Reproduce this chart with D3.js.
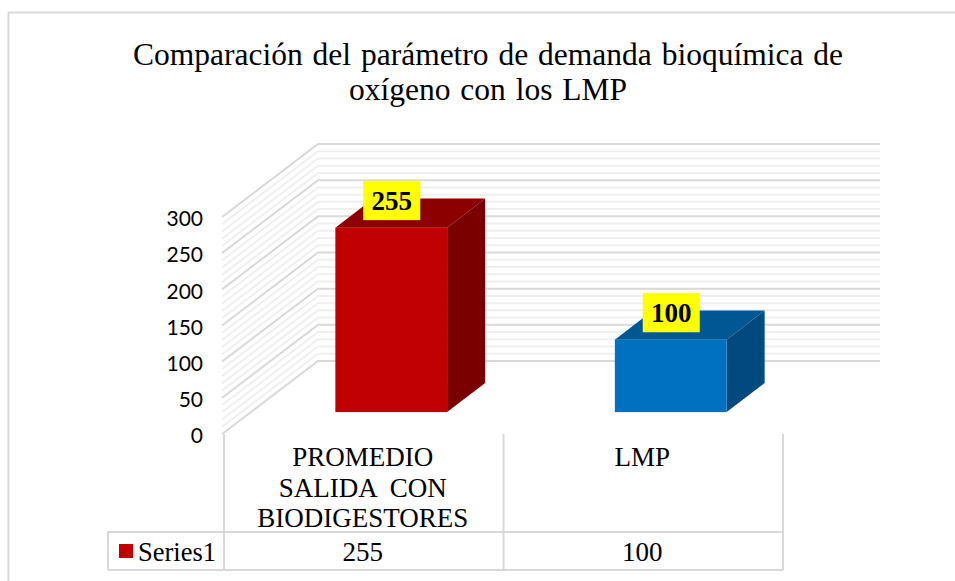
<!DOCTYPE html>
<html>
<head>
<meta charset="utf-8">
<script src="https://cdn.jsdelivr.net/npm/d3@7"></script>
<style>
	html, body { margin: 0; padding: 0; background: #fff; }
	svg { display: block; }
	text { font-family: "Liberation Serif", serif; fill: #000; white-space: pre; }
	.yaxis text { font-family: Lato, sans-serif; font-size: 21px; }
</style>
</head>
<body>
<svg id="chart" width="955" height="581"></svg>
<script>
const categories = ['PROMEDIO SALIDA CON BIODIGESTORES', 'LMP'];
const categoryLines = [['PROMEDIO', 'SALIDA  CON', 'BIODIGESTORES'], ['LMP']];
const values = [255, 100];
const seriesName = 'Series1';
const barColors = [
	{ front: '#c00000', top: '#8c0000', side: '#7a0000' },
	{ front: '#0070c0', top: '#005794', side: '#004a80' }
];
const majorTicks = [0, 50, 100, 150, 200, 250, 300];
const minorTicks = d3.range(0, 301, 10).filter(v => v % 50 !== 0);
const titleLines = ['Comparación del parámetro de demanda bioquímica de', 'oxígeno con los LMP'];

const gConfig = {
	left: 223, right: 782, floor: 434, ceil: 217,
	depthX: 95, depthY: 73, wallRight: 880,
	barNear: 0.3, barFar: 0.7,
	tableLeft: 108, tableTop: 532, tableBottom: 570
};
const gridGrey = '#d9d9d9';

const svg = d3.select('#chart');
const x = d3.scaleBand().domain(categories).range([gConfig.left, gConfig.right])
	.paddingInner(0.6).paddingOuter(0.3);
const y = d3.scaleLinear().domain([0, 300]).range([gConfig.floor, gConfig.ceil]);
const dx = t => t * gConfig.depthX;
const dy = t => -t * gConfig.depthY;

// outer frame, no right or bottom edge in the original
svg.append('path')
	.attr('d', 'M8.5,581V12.5H955')
	.attr('fill', 'none')
	.attr('stroke', gridGrey)
	.attr('stroke-width', 2);

// title
svg.append('g').selectAll('text')
	.data(titleLines)
	.enter()
	.append('text')
		.attr('x', 488)
		.attr('y', (d, i) => 65 + i * 35)
		.attr('text-anchor', 'middle')
		.attr('font-size', 31.5)
		.attr('word-spacing', 2)
		.text(d => d);

// walls
function wallLine (v) {
	const yv = y(v);
	const bx = gConfig.left + dx(1);
	const by = yv + dy(1);
	return `M${gConfig.left - 1},${yv}L${bx},${by}H${gConfig.wallRight}`;
}

const grid = svg.append('g').attr('fill', 'none');
grid.selectAll('.minor')
	.data(minorTicks)
	.enter()
	.append('path')
		.attr('class', 'minor')
		.attr('d', wallLine)
		.attr('stroke', '#efefef')
		.attr('stroke-width', 2);
grid.selectAll('.major')
	.data(majorTicks)
	.enter()
	.append('path')
		.attr('class', 'major')
		.attr('d', wallLine)
		.attr('stroke', gridGrey)
		.attr('stroke-width', 2);

// y axis
const yAxis = svg.append('g')
	.attr('class', 'yaxis')
	.attr('transform', 'translate(203,0)')
	.call(d3.axisLeft(y).tickValues(majorTicks).tickSize(0).tickPadding(0));
yAxis.select('.domain').remove();
yAxis.selectAll('text').attr('dy', '0.42em');

// bars
const bars = svg.append('g').selectAll('g')
	.data(categories)
	.enter()
	.append('g');

bars.each(function (c, i) {
	const g = d3.select(this);
	const near = gConfig.barNear;
	const far = gConfig.barFar;
	const x0 = x(c) + dx(near);
	const x1 = x0 + x.bandwidth();
	const offX = dx(far) - dx(near);
	const offY = dy(far) - dy(near);
	const yBase = y(0) + dy(near);
	const yTop = y(values[i]) + dy(near);
	g.append('polygon')
		.attr('points', [[x0, yTop], [x1, yTop], [x1 + offX, yTop + offY], [x0 + offX, yTop + offY]].join(' '))
		.attr('fill', barColors[i].top);
	g.append('polygon')
		.attr('points', [[x1, yTop], [x1 + offX, yTop + offY], [x1 + offX, yBase + offY], [x1, yBase]].join(' '))
		.attr('fill', barColors[i].side);
	g.append('rect')
		.attr('x', x0)
		.attr('y', yTop)
		.attr('width', x.bandwidth())
		.attr('height', yBase - yTop)
		.attr('fill', barColors[i].front);

	// data label
	const cx = (x0 + x1) / 2 + 0.5;
	const cy = yTop - 27;
	g.append('rect')
		.attr('x', cx - 28.5)
		.attr('y', cy - 19.5)
		.attr('width', 57)
		.attr('height', 39)
		.attr('fill', '#ffff00');
	g.append('text')
		.attr('x', cx)
		.attr('y', cy + 9)
		.attr('text-anchor', 'middle')
		.attr('font-size', 27)
		.attr('font-weight', 'bold')
		.text(values[i]);
});

// data table under the plot
const colEdges = [gConfig.left, gConfig.left + x.step(), gConfig.left + 2 * x.step()];
const table = svg.append('g')
	.attr('stroke', gridGrey)
	.attr('stroke-width', 2)
	.attr('fill', 'none');
table.selectAll('.col')
	.data(colEdges)
	.enter()
	.append('line')
		.attr('class', 'col')
		.attr('x1', d => d + 1)
		.attr('x2', d => d + 1)
		.attr('y1', gConfig.floor)
		.attr('y2', gConfig.tableBottom);
table.append('path')
	.attr('d', `M${gConfig.tableLeft},${gConfig.tableBottom}V${gConfig.tableTop}H${colEdges[2] + 1}`);
table.append('line')
	.attr('x1', gConfig.tableLeft)
	.attr('x2', colEdges[2] + 1)
	.attr('y1', gConfig.tableBottom)
	.attr('y2', gConfig.tableBottom);

const cats = svg.append('g').selectAll('g')
	.data(categories)
	.enter()
	.append('g')
		.attr('transform', c => `translate(${x(c) + x.bandwidth() / 2},0)`);
cats.selectAll('text')
	.data((c, i) => categoryLines[i])
	.enter()
	.append('text')
		.attr('y', (d, i) => 466 + i * 30.5)
		.attr('text-anchor', 'middle')
		.attr('font-size', 27)
		.text(d => d);

svg.append('g').selectAll('text')
	.data(values)
	.enter()
	.append('text')
		.attr('x', (d, i) => x(categories[i]) + x.bandwidth() / 2)
		.attr('y', 561)
		.attr('text-anchor', 'middle')
		.attr('font-size', 27)
		.text(d => d);

// legend key
svg.append('rect')
	.attr('x', 119)
	.attr('y', 544)
	.attr('width', 14)
	.attr('height', 14)
	.attr('fill', barColors[0].front);
svg.append('text')
	.attr('x', 138)
	.attr('y', 561)
	.attr('font-size', 26.5)
	.text(seriesName);
</script>
</body>
</html>
